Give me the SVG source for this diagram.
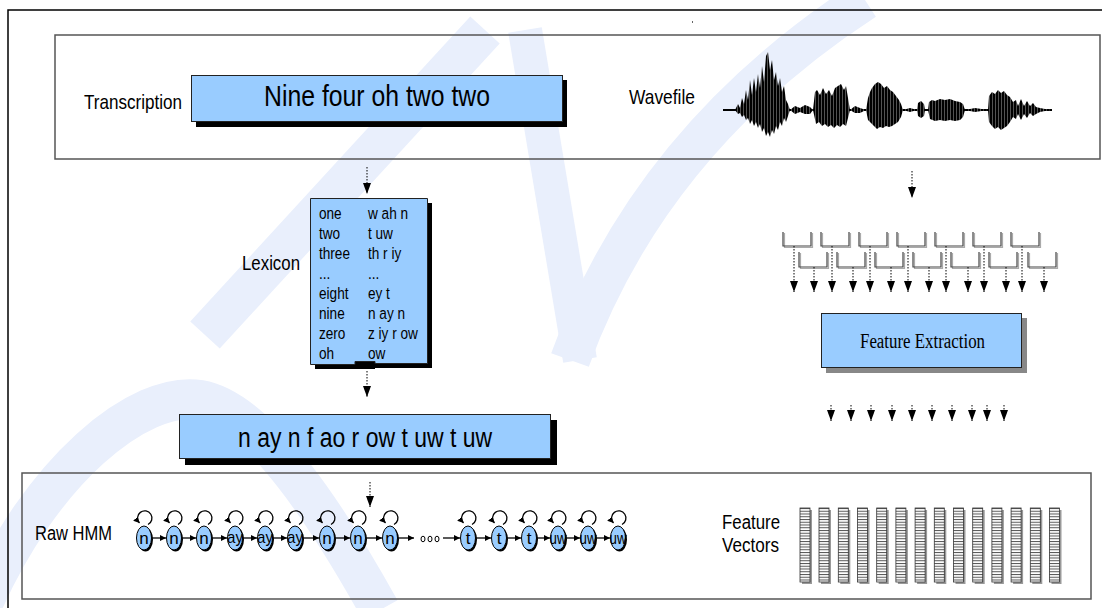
<svg xmlns="http://www.w3.org/2000/svg" width="1102" height="608" viewBox="0 0 1102 608">
<defs>
<style>
.lbl{font-family:"Liberation Sans",Arial,sans-serif;fill:#000}
.box{fill:#99ccff;stroke:#222;stroke-width:1}
.shd{fill:#000}
.dot{stroke:#000;stroke-width:1;stroke-dasharray:1.5 1.5;fill:none}
.frm{fill:none;stroke:#444;stroke-width:1.2}
.frs{fill:none;stroke:#aaa;stroke-width:1.2}
.st{fill:#99ccff;stroke:#000;stroke-width:1}
.tr{stroke:#000;stroke-width:1.3;fill:none}
.wm{fill:none;stroke:#e9effc}
</style>
<marker id="ah" markerUnits="userSpaceOnUse" markerWidth="12" markerHeight="8" refX="11" refY="4" orient="auto" viewBox="0 0 12 8"><path d="M0,0 L11,4 L0,8 z" fill="#000"/></marker>
<marker id="sa" markerUnits="userSpaceOnUse" markerWidth="6" markerHeight="6" refX="6" refY="3" orient="auto" viewBox="0 0 6 6"><path d="M0,0 L6,3 L0,6 z" fill="#000"/></marker>
<pattern id="stripes" patternUnits="userSpaceOnUse" x="0" y="508" width="10" height="2.75"><rect width="10" height="2.75" fill="#fff"/><rect width="10" height="1" fill="#555"/></pattern>
<pattern id="wv" patternUnits="userSpaceOnUse" x="0" y="0" width="3" height="10"><rect width="3" height="10" fill="#000"/><rect x="2" width="0.8" height="10" fill="#666"/></pattern>
</defs>
<rect width="1102" height="608" fill="#fff"/>
<g id="watermark">
<path class="wm" stroke-width="40" d="M205,335 L485,30"/>
<path class="wm" stroke-width="34" d="M525,30 L580,360"/>
<path class="wm" stroke-width="40" d="M865,0 Q650,140 570,360"/>
<path class="wm" stroke-width="40" d="M-20,610 C40,470 140,390 200,400 C260,410 330,520 380,610"/>
</g>
<g id="frame">
<path d="M8,608 V10 H1102" fill="none" stroke="#000" stroke-width="1.5"/>
<rect x="692" y="21" width="1" height="2" fill="#666"/>
</g>
<g id="top-panel">
<rect x="55" y="35" width="1045" height="124" fill="none" stroke="#555" stroke-width="1.5"/>
</g>
<g id="transcription">
<text class="lbl" x="84" y="109" font-size="21" textLength="98" lengthAdjust="spacingAndGlyphs">Transcription</text>
<rect class="shd" x="196" y="80" width="371" height="47"/>
<rect class="box" x="191.5" y="75.5" width="371" height="46"/>
<text class="lbl" x="264" y="106" font-size="29" textLength="226" lengthAdjust="spacingAndGlyphs">Nine four oh two two</text>
</g>
<g id="wavefile">
<text class="lbl" x="629" y="104" font-size="21" textLength="66" lengthAdjust="spacingAndGlyphs">Wavefile</text>
<path d="M723,110 H1052" stroke="#000" stroke-width="2"/>
<path fill="url(#wv)" d="M735,110 L738,104 740,108 742,98 744,104 746,90 748,100 750,80 752,95 754,78 756,92 758,74 760,88 762,66 764,82 766,56 768,52 770,70 772,60 774,80 776,72 778,86 780,78 782,92 784,86 786,100 788,104 790,110 788,116 786,122 784,118 782,126 780,122 778,130 776,126 774,134 772,130 770,137 768,132 766,136 764,128 762,132 760,124 758,128 756,122 754,126 752,120 750,124 748,118 746,120 744,115 742,117 740,113 738,114 Z
M790,110 L795,106 800,108 805,105 810,107 813,110 810,114 805,114 800,112 795,114 Z
M813,110 L815,92 817,90 820,95 823,88 826,94 829,90 832,96 835,88 838,86 841,84 844,90 846,86 848,98 850,110 848,118 846,126 843,124 840,127 837,125 834,128 831,125 828,127 825,124 822,126 819,122 816,124 Z
M850,110 L855,106 860,108 866,110 860,113 855,113 Z
M866,110 L868,98 870,92 872,88 875,84 878,82 881,84 884,88 887,86 890,90 893,92 896,96 899,100 901,104 903,110 901,117 898,122 895,124 892,126 889,127 886,126 883,128 880,127 877,129 874,126 871,123 868,120 Z
M903,110 L910,108 917,110 910,112 Z
M917,110 L918,103 921,101 924,104 925,110 924,116 921,118 918,116 Z
M928,110 L929,102 932,100 935,101 940,99 945,100 950,99 955,101 960,102 963,104 965,110 963,117 960,120 955,121 950,120 945,121 940,120 935,121 930,119 Z
M965,110 L975,108 988,110 975,112 Z
M988,110 L989,96 992,92 995,94 998,90 1001,93 1004,91 1007,95 1010,97 1013,102 1016,100 1018,106 1021,99 1024,106 1027,101 1030,106 1033,103 1036,107 1040,108 1045,109 1052,110 1045,111 1040,112 1036,114 1033,116 1030,113 1027,118 1024,114 1021,120 1018,114 1016,119 1013,117 1010,122 1007,126 1004,128 1001,130 998,127 995,129 992,126 989,122 Z"/>
</g>
<g id="lexicon">
<text class="lbl" x="242" y="270" font-size="21" textLength="58" lengthAdjust="spacingAndGlyphs">Lexicon</text>
<path class="shd" d="M315,203 H432 V368 H375 V369 H315 Z"/>
<path class="box" d="M310.5,198.5 H427.5 V363.5 H375 V361.5 H355 V364.5 H310.5 Z"/>
<g class="lbl" font-size="17" transform="translate(319 0) scale(0.8 1)">
<text x="0" y="219">one</text><text x="0" y="239">two</text><text x="0" y="259">three</text><text x="0" y="279">...</text><text x="0" y="299">eight</text><text x="0" y="319">nine</text><text x="0" y="339">zero</text><text x="0" y="359">oh</text>
</g>
<g class="lbl" font-size="17" transform="translate(368 0) scale(0.8 1)">
<text x="0" y="219">w ah n</text><text x="0" y="239">t uw</text><text x="0" y="259">th r iy</text><text x="0" y="279">...</text><text x="0" y="299">ey t</text><text x="0" y="319">n ay n</text><text x="0" y="339">z iy r ow</text><text x="0" y="359">ow</text>
</g>
</g>
<g id="phonemes">
<rect class="shd" x="185" y="420" width="372" height="45"/>
<rect class="box" x="179.5" y="414.5" width="371" height="44"/>
<text class="lbl" x="238" y="447" font-size="27" textLength="254" lengthAdjust="spacingAndGlyphs">n ay n f ao r ow t uw t uw</text>
</g>
<g id="frames">
<path class="frs" d="M784.5,233 V247.5 H812.5 V233 M822.5,233 V247.5 H850.5 V233 M860.5,233 V247.5 H888.5 V233 M898.5,233 V247.5 H926.5 V233 M936.5,233 V247.5 H964.5 V233 M974.5,233 V247.5 H1002.5 V233 M1012.5,233 V247.5 H1040.5 V233"/>
<path class="frm" d="M783,232 V246 H811 V232 M821,232 V246 H849 V232 M859,232 V246 H887 V232 M897,232 V246 H925 V232 M935,232 V246 H963 V232 M973,232 V246 H1001 V232 M1011,232 V246 H1039 V232"/>
<path class="frs" d="M800.5,253 V268.5 H828.5 V253 M838.5,253 V268.5 H866.5 V253 M876.5,253 V268.5 H904.5 V253 M914.5,253 V268.5 H942.5 V253 M952.5,253 V268.5 H980.5 V253 M990.5,253 V268.5 H1018.5 V253 M1029.5,253 V268.5 H1057.5 V253"/>
<path class="frm" d="M799,252 V267 H827 V252 M837,252 V267 H865 V252 M875,252 V267 H903 V252 M913,252 V267 H941 V252 M951,252 V267 H979 V252 M989,252 V267 H1017 V252 M1028,252 V267 H1056 V252"/>
</g>
<g id="feature-extraction">
<rect x="826" y="318" width="201" height="55" fill="#888"/>
<rect class="box" x="821.5" y="313.5" width="200" height="54"/>
<text x="860" y="348" font-family="'Liberation Serif','Times New Roman',serif" font-size="20" textLength="125" lengthAdjust="spacingAndGlyphs">Feature Extraction</text>
</g>
<g id="bottom-panel">
<rect x="22" y="473" width="1069" height="126" fill="none" stroke="#555" stroke-width="1.5"/>
<text class="lbl" x="35" y="540" font-size="20" textLength="77" lengthAdjust="spacingAndGlyphs">Raw HMM</text>
</g>
<g id="hmm">
<g fill="#000">
<ellipse cx="145.5" cy="539.5" rx="7.5" ry="12"/><ellipse cx="175.5" cy="539.5" rx="7.5" ry="12"/><ellipse cx="205.5" cy="539.5" rx="7.5" ry="12"/><ellipse cx="236.5" cy="539.5" rx="7.5" ry="12"/><ellipse cx="266.5" cy="539.5" rx="7.5" ry="12"/><ellipse cx="296.5" cy="539.5" rx="7.5" ry="12"/><ellipse cx="328.5" cy="539.5" rx="7.5" ry="12"/><ellipse cx="359.5" cy="539.5" rx="7.5" ry="12"/><ellipse cx="391.5" cy="539.5" rx="7.5" ry="12"/><ellipse cx="469.5" cy="539.5" rx="7.5" ry="12"/><ellipse cx="500.5" cy="539.5" rx="7.5" ry="12"/><ellipse cx="530.5" cy="539.5" rx="7.5" ry="12"/><ellipse cx="559.5" cy="539.5" rx="7.5" ry="12"/><ellipse cx="589.5" cy="539.5" rx="7.5" ry="12"/><ellipse cx="619.5" cy="539.5" rx="7.5" ry="12"/>
</g>
<g class="st">
<ellipse cx="144" cy="538" rx="7.5" ry="12"/><ellipse cx="174" cy="538" rx="7.5" ry="12"/><ellipse cx="204" cy="538" rx="7.5" ry="12"/><ellipse cx="235" cy="538" rx="7.5" ry="12"/><ellipse cx="265" cy="538" rx="7.5" ry="12"/><ellipse cx="295" cy="538" rx="7.5" ry="12"/><ellipse cx="327" cy="538" rx="7.5" ry="12"/><ellipse cx="358" cy="538" rx="7.5" ry="12"/><ellipse cx="390" cy="538" rx="7.5" ry="12"/><ellipse cx="468" cy="538" rx="7.5" ry="12"/><ellipse cx="499" cy="538" rx="7.5" ry="12"/><ellipse cx="529" cy="538" rx="7.5" ry="12"/><ellipse cx="558" cy="538" rx="7.5" ry="12"/><ellipse cx="588" cy="538" rx="7.5" ry="12"/><ellipse cx="618" cy="538" rx="7.5" ry="12"/>
</g>
<g class="lbl" font-size="17" text-anchor="middle">
<text x="144" y="544">n</text><text x="174" y="544">n</text><text x="204" y="544">n</text><text x="235" y="543" textLength="16" lengthAdjust="spacingAndGlyphs">ay</text><text x="265" y="543" textLength="16" lengthAdjust="spacingAndGlyphs">ay</text><text x="295" y="543" textLength="16" lengthAdjust="spacingAndGlyphs">ay</text><text x="327" y="544">n</text><text x="358" y="544">n</text><text x="390" y="544">n</text><text x="468" y="544">t</text><text x="499" y="544">t</text><text x="529" y="544">t</text><text x="558" y="544" textLength="17" lengthAdjust="spacingAndGlyphs">uw</text><text x="588" y="544" textLength="17" lengthAdjust="spacingAndGlyphs">uw</text><text x="618" y="544" textLength="17" lengthAdjust="spacingAndGlyphs">uw</text>
</g>
<g fill="none" stroke="#000" stroke-width="1">
<ellipse cx="423" cy="539" rx="2" ry="2.8"/><ellipse cx="430" cy="539" rx="2" ry="2.8"/><ellipse cx="437" cy="539" rx="2" ry="2.8"/>
</g>
</g>
<g id="feature-vectors">
<text class="lbl" x="722" y="529" font-size="20" textLength="58" lengthAdjust="spacingAndGlyphs">Feature</text>
<text class="lbl" x="722" y="552" font-size="20" textLength="57" lengthAdjust="spacingAndGlyphs">Vectors</text>
<g fill="#999">
<rect x="802" y="510" width="10" height="74"/><rect x="821" y="510" width="10" height="74"/><rect x="840.3" y="510" width="10" height="74"/><rect x="859.5" y="510" width="10" height="74"/><rect x="878.7" y="510" width="10" height="74"/><rect x="897.9" y="510" width="10" height="74"/><rect x="917.1" y="510" width="10" height="74"/><rect x="936.3" y="510" width="10" height="74"/><rect x="955.5" y="510" width="10" height="74"/><rect x="974.7" y="510" width="10" height="74"/><rect x="993.9" y="510" width="10" height="74"/><rect x="1013.1" y="510" width="10" height="74"/><rect x="1032.3" y="510" width="10" height="74"/><rect x="1051.5" y="510" width="10" height="74"/>
</g>
<g fill="url(#stripes)" stroke="#333" stroke-width="0.8">
<rect x="800" y="508" width="10" height="74"/><rect x="819" y="508" width="10" height="74"/><rect x="838.3" y="508" width="10" height="74"/><rect x="857.5" y="508" width="10" height="74"/><rect x="876.7" y="508" width="10" height="74"/><rect x="895.9" y="508" width="10" height="74"/><rect x="915.1" y="508" width="10" height="74"/><rect x="934.3" y="508" width="10" height="74"/><rect x="953.5" y="508" width="10" height="74"/><rect x="972.7" y="508" width="10" height="74"/><rect x="991.9" y="508" width="10" height="74"/><rect x="1011.1" y="508" width="10" height="74"/><rect x="1030.3" y="508" width="10" height="74"/><rect x="1049.5" y="508" width="10" height="74"/>
</g>
</g>
<g id="connectors">
<g class="dot" marker-end="url(#ah)">
<path d="M367,167 V194"/>
<path d="M367,371 V397"/>
<path d="M370,482 V507"/>
<path d="M912,171 V198"/>
<path d="M794,246 V292"/><path d="M832,246 V292"/><path d="M870,246 V292"/><path d="M908,246 V292"/><path d="M946,246 V292"/><path d="M984,246 V292"/><path d="M1022,246 V292"/>
<path d="M814,267 V292"/><path d="M853,267 V292"/><path d="M891,267 V292"/><path d="M929,267 V292"/><path d="M968,267 V292"/><path d="M1006,267 V292"/><path d="M1044,267 V292"/>
<path d="M831,405 V421"/><path d="M851,405 V421"/><path d="M871,405 V421"/><path d="M892,405 V421"/><path d="M912,405 V421"/><path d="M932,405 V421"/><path d="M952,405 V421"/><path d="M972,405 V421"/><path d="M987,405 V421"/><path d="M1004,405 V421"/>
</g>
<g class="tr" marker-end="url(#sa)">
<path d="M152,538 H166"/><path d="M182,538 H196"/><path d="M212,538 H227"/><path d="M243,538 H257"/><path d="M273,538 H287"/><path d="M303,538 H319"/><path d="M335,538 H350"/><path d="M366,538 H382"/><path d="M398,538 H414"/><path d="M443,538 H460"/><path d="M476,538 H491"/><path d="M507,538 H521"/><path d="M537,538 H550"/><path d="M566,538 H580"/><path d="M596,538 H610"/>
</g>
<g class="tr" stroke-width="1.2" marker-end="url(#sa)">
<path d="M148,524.5 A7.2,7.2 0 1,0 139.5,523"/><path d="M178,524.5 A7.2,7.2 0 1,0 169.5,523"/><path d="M208,524.5 A7.2,7.2 0 1,0 199.5,523"/><path d="M239,524.5 A7.2,7.2 0 1,0 230.5,523"/><path d="M269,524.5 A7.2,7.2 0 1,0 260.5,523"/><path d="M299,524.5 A7.2,7.2 0 1,0 290.5,523"/><path d="M331,524.5 A7.2,7.2 0 1,0 322.5,523"/><path d="M362,524.5 A7.2,7.2 0 1,0 353.5,523"/><path d="M394,524.5 A7.2,7.2 0 1,0 385.5,523"/><path d="M472,524.5 A7.2,7.2 0 1,0 463.5,523"/><path d="M503,524.5 A7.2,7.2 0 1,0 494.5,523"/><path d="M533,524.5 A7.2,7.2 0 1,0 524.5,523"/><path d="M562,524.5 A7.2,7.2 0 1,0 553.5,523"/><path d="M592,524.5 A7.2,7.2 0 1,0 583.5,523"/><path d="M622,524.5 A7.2,7.2 0 1,0 613.5,523"/>
</g>
</g>
</svg>
